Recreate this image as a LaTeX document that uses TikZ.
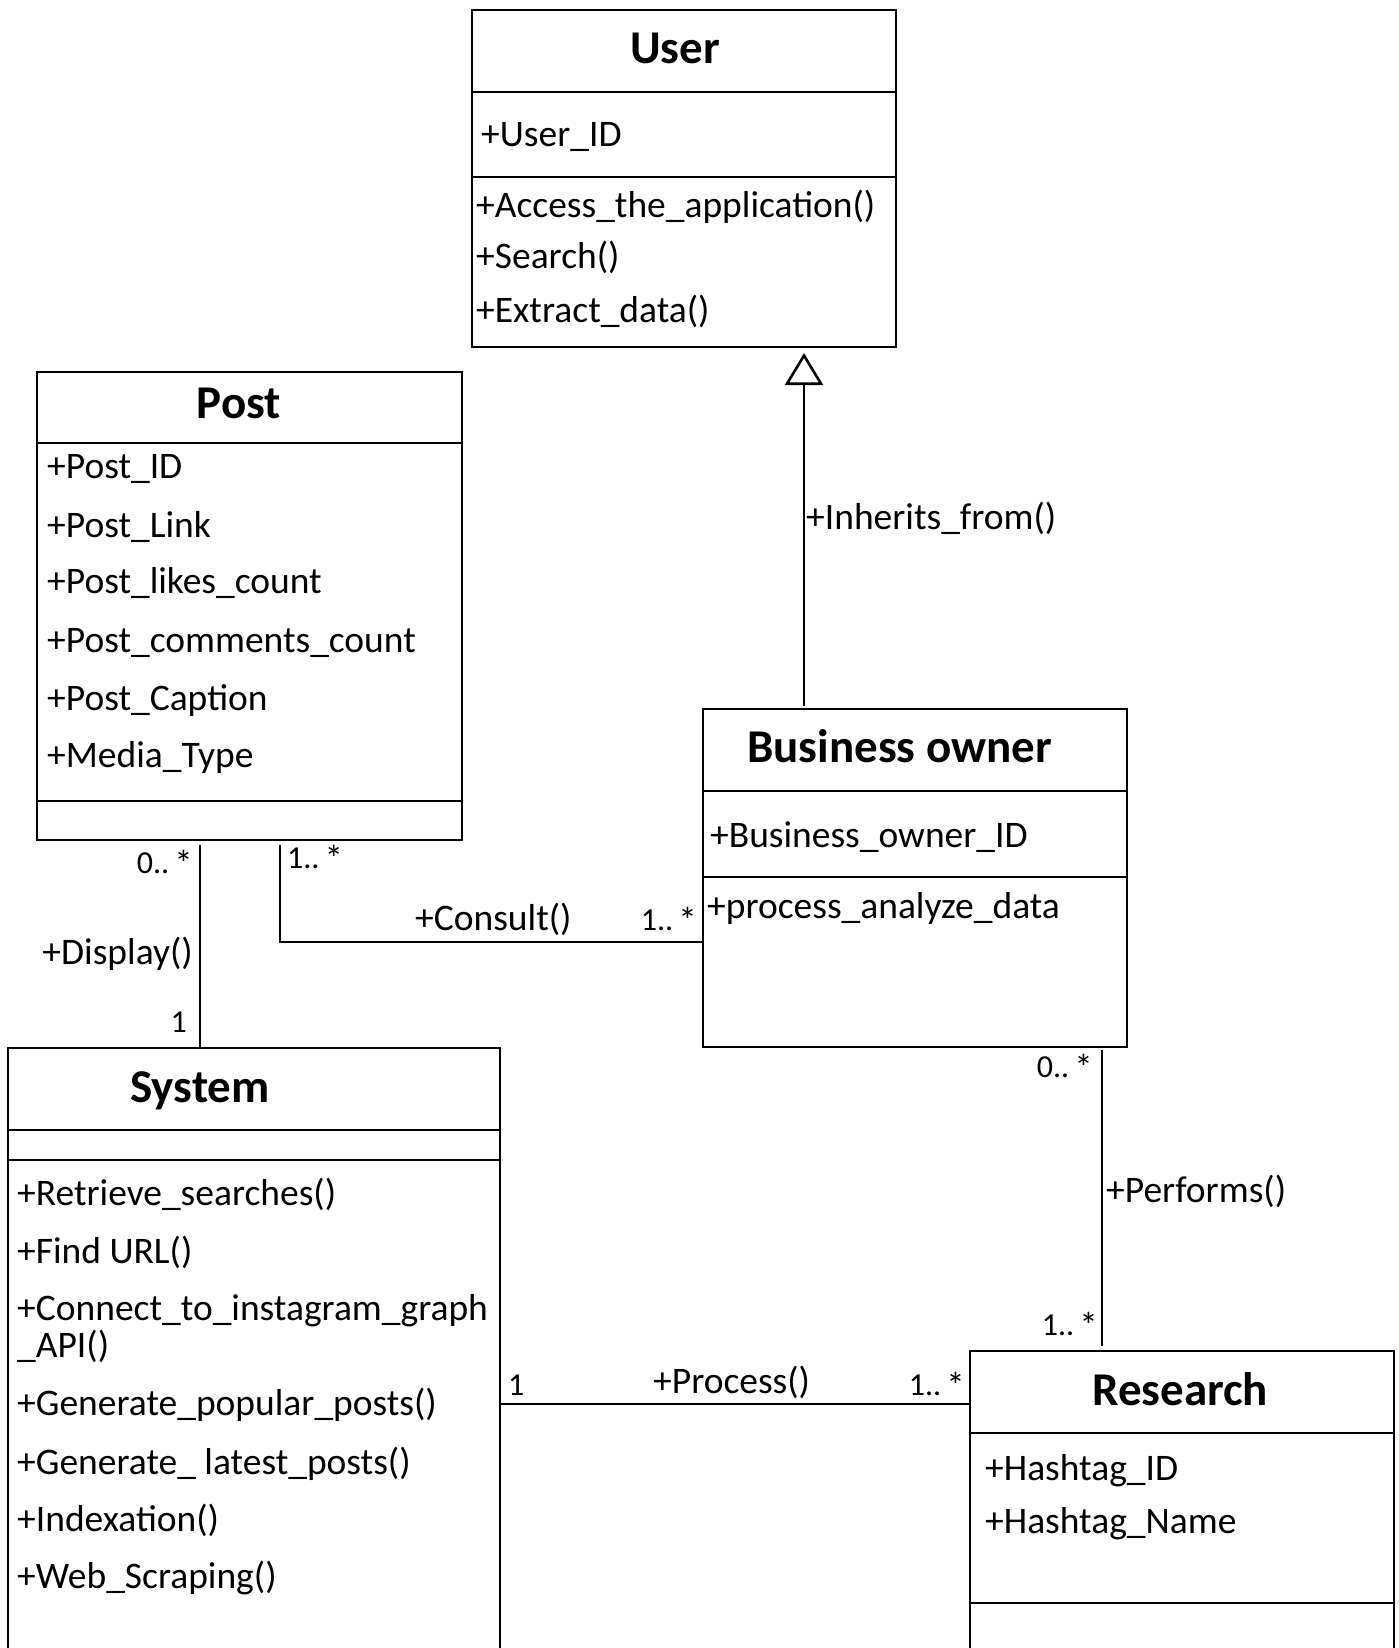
\documentclass[tikz,border=0pt]{standalone}
\usepackage{fontspec}
\setmainfont{Carlito}
\usetikzlibrary{arrows.meta}
% multiplicity star, set a little larger than the digits
\newcommand{\mstar}{\hspace{0.16em}{\fontsize{37}{37}\selectfont\raisebox{-0.1em}{*}}}
\begin{document}
\begin{tikzpicture}[x=1pt,y=-1pt,
  classbox/.style={draw, line width=2.6pt, inner sep=0pt, outer sep=0pt, anchor=north west},
  sep/.style={line width=1.4pt},
  link/.style={line width=1.4pt},
  title/.style={font=\fontsize{47}{56}\selectfont\bfseries, inner sep=0pt},
  member/.style={font=\fontsize{37.5}{44}\selectfont, inner sep=0pt, anchor=base west},
  role/.style={font=\fontsize{37.5}{44}\selectfont, inner sep=0pt},
  mult/.style={font=\fontsize{32}{38}\selectfont, inner sep=0pt},
  inherit/.style={link, -{Triangle[open, length=32pt, width=38pt, line width=2.6pt]}}]

\fill[white] (0,0) rectangle (1398,1648);
\useasboundingbox (0,0) rectangle (1398,1648);

% ---------- class boxes ----------
\node[classbox, minimum width=424pt, minimum height=337pt] (user) at (472,10) {};
\node[classbox, minimum width=425pt, minimum height=468pt] (post) at (37,372) {};
\node[classbox, minimum width=424pt, minimum height=338pt] (bo) at (703,709) {};
\node[classbox, minimum width=492pt, minimum height=700pt] (sys) at (8,1048) {};
\node[classbox, minimum width=424pt, minimum height=400pt] (res) at (970,1351) {};

% compartment separators
\draw[sep] (user.west |- 0,92) -- (user.east |- 0,92);
\draw[sep] (user.west |- 0,177) -- (user.east |- 0,177);
\draw[sep] (post.west |- 0,443) -- (post.east |- 0,443);
\draw[sep] (post.west |- 0,801) -- (post.east |- 0,801);
\draw[sep] (bo.west |- 0,791) -- (bo.east |- 0,791);
\draw[sep] (bo.west |- 0,877) -- (bo.east |- 0,877);
\draw[sep] (sys.west |- 0,1130) -- (sys.east |- 0,1130);
\draw[sep] (sys.west |- 0,1160) -- (sys.east |- 0,1160);
\draw[sep] (res.west |- 0,1433) -- (res.east |- 0,1433);
\draw[sep] (res.west |- 0,1603) -- (res.east |- 0,1603);

% ---------- User ----------
\node[title, anchor=base] (usertitle) at (675,64) {User};
\node[member] (userid) at (481,147) {+User\_ID};
\node[member] (useracc) at (476,217) {+Access\_the\_application()};
\node[member] (usersearch) at (476,268) {+Search()};
\node[member] (userextract) at (476,322) {+Extract\_data()};

% ---------- Post ----------
\node[title, anchor=base] (posttitle) at (239,418) {Post};
\node[member] (postid) at (47,478) {+Post\_ID};
\node[member] (postlink) at (47,537) {+Post\_Link};
\node[member] (postlikes) at (47,593) {+Post\_likes\_count};
\node[member] (postcomments) at (47,652) {+Post\_comments\_count};
\node[member] (postcaption) at (47,710) {+Post\_Caption};
\node[member] (postmedia) at (47,767) {+Media\_Type};

% ---------- Business owner ----------
\node[title, anchor=base west] (botitle) at (747,762) {Business owner};
\node[member] (boid) at (710,847) {+Business\_owner\_ID};
\node[member] (boproc) at (707,918) {+process\_analyze\_data};

% ---------- System ----------
\node[title, anchor=base west] (systitle) at (130,1102) {System};
\node[member] (sysretrieve) at (17,1205) {+Retrieve\_searches()};
\node[member] (sysfind) at (17,1263) {+Find URL()};
\node[member] (sysconnect) at (17,1320) {+Connect\_to\_instagram\_graph};
\node[member] (sysapi) at (17,1357) {\_API()};
\node[member] (syspopular) at (17,1415) {+Generate\_popular\_posts()};
\node[member] (syslatest) at (17,1474) {+Generate\_ latest\_posts()};
\node[member] (sysindex) at (17,1531) {+Indexation()};
\node[member] (sysweb) at (17,1588) {+Web\_Scraping()};

% ---------- Research ----------
\node[title, anchor=base west] (restitle) at (1092,1405) {Research};
\node[member] (reshid) at (985,1480) {+Hashtag\_ID};
\node[member] (reshname) at (985,1533) {+Hashtag\_Name};

% ---------- relations ----------
% generalisation: Business owner -> User
\draw[inherit, shorten <=3pt, shorten >=6pt] (804,0 |- bo.north) -- (804,0 |- user.south);
\node[role, anchor=base west] (inhlabel) at (806,529) {+Inherits\_from()};

% Post -- System
\draw[link, shorten <=5pt] (200,0 |- post.south) -- (200,0 |- sys.north);
\node[mult, anchor=base east] (dispm1) at (193,873) {0..\mstar};
\node[role, anchor=base east] (displabel) at (193,964) {+Display()};
\node[mult, anchor=base east] (dispm2) at (187,1032) {1};

% Post -- Business owner
\draw[link, shorten <=5pt] (280,0 |- post.south) |- (bo.west |- 0,942);
\node[mult, anchor=base west] (consm1) at (287,868) {1..\mstar};
\node[role, anchor=base west] (conslabel) at (415,930) {+Consult()};
\node[mult, anchor=base east] (consm2) at (697,930) {1..\mstar};

% Business owner -- Research
\draw[link, shorten <=3pt, shorten >=5pt] (1102,0 |- bo.south) -- (1102,0 |- res.north);
\node[mult, anchor=base east] (perfm1) at (1093,1077) {0..\mstar};
\node[role, anchor=base west] (perflabel) at (1106,1202) {+Performs()};
\node[mult, anchor=base east] (perfm2) at (1098,1335) {1..\mstar};

% System -- Research
\draw[link] (sys.east |- 0,1404) -- (res.west |- 0,1404);
\node[mult, anchor=base west] (procm1) at (508,1395) {1};
\node[role, anchor=base west] (proclabel) at (653,1393) {+Process()};
\node[mult, anchor=base east] (procm2) at (965,1395) {1..\mstar};

\end{tikzpicture}
\end{document}
